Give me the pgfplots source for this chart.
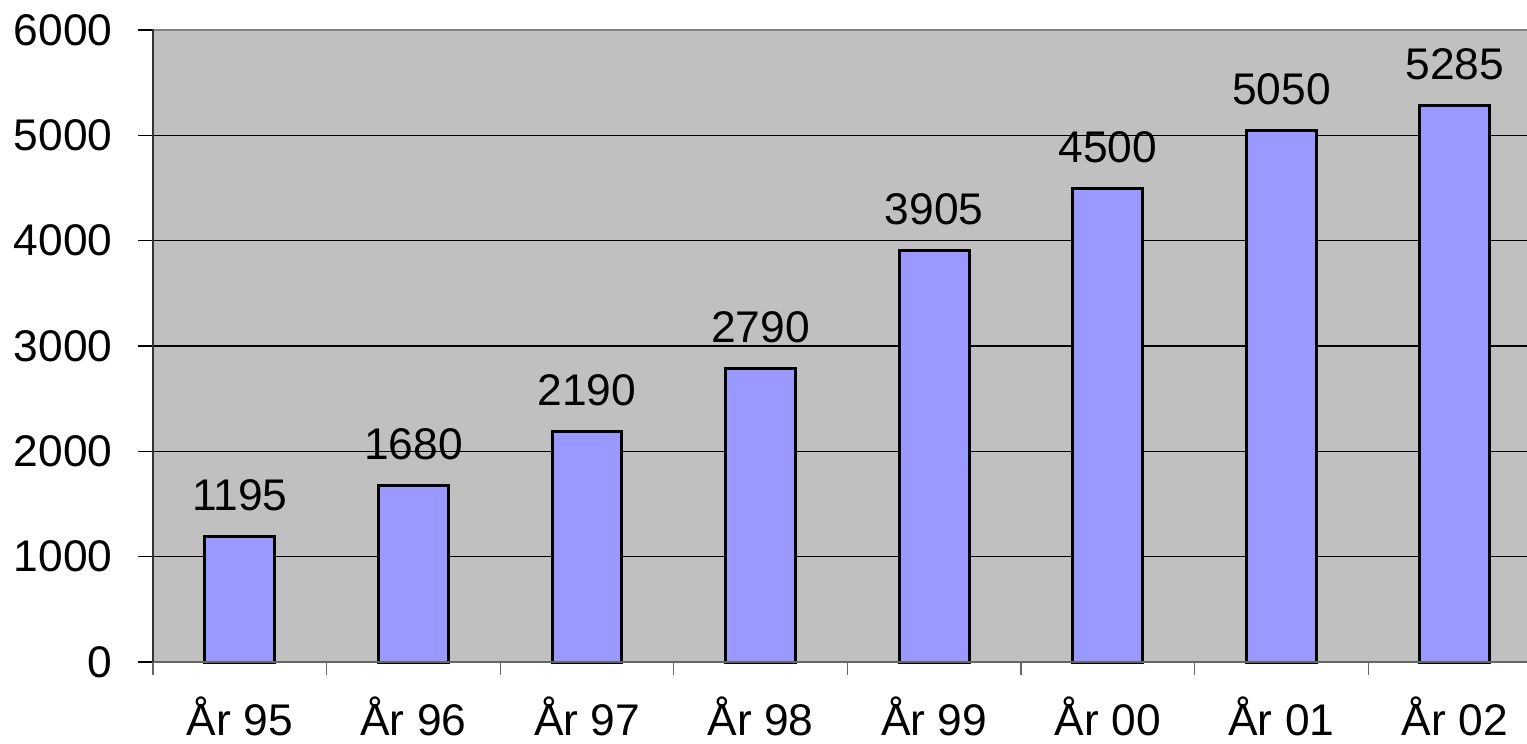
\documentclass[border=0pt]{standalone}
\usepackage{fontspec}
\setmainfont{Liberation Sans}
\usepackage{pgfplots}
\pgfplotsset{compat=1.18}
\definecolor{plotgray}{HTML}{C0C0C0}
\definecolor{barblue}{HTML}{9999FF}
\begin{document}
\begin{tikzpicture}
\begin{axis}[
  scale only axis,
  width=412.2pt, height=189.6pt,
  xmin=-0.5, xmax=7.415,
  ymin=0, ymax=6000,
  axis background/.style={fill=plotgray},
  axis line style={draw=none},
  /pgf/number format/assume math mode=true,
  /pgf/number format/1000 sep={},
  tick label style={font=\fontsize{13.3pt}{16pt}\selectfont},
  ytick={0,1000,...,6000},
  ymajorgrids,
  grid style={black, line width=0.35pt},
  tick align=outside,
  xtick pos=left, ytick pos=left,
  y tick style={black, line width=0.4pt},
  major tick length=4.5pt,
  yticklabel style={anchor=east, inner sep=0pt, xshift=-7.5pt},
  xtick={0,...,7},
  xticklabels={År 95,År 96,År 97,År 98,År 99,År 00,År 01,År 02},
  x tick style={draw=none},
  xticklabel style={anchor=north, inner sep=0pt, yshift=-5.6pt},
  extra x ticks={-0.5,0.5,...,6.5},
  extra x tick labels={},
  extra x tick style={x tick style={draw=gray!80!black, line width=0.4pt}, major tick length=3.9pt},
  ybar, bar width=0.403,
  nodes near coords,
  nodes near coords style={anchor=south, inner sep=0pt, yshift=7.2pt,
    font=\fontsize{13.3pt}{16pt}\selectfont, black},
  clip=false,
]
\addplot[fill=barblue, draw=black, line width=0.9pt] coordinates {
  (0,1195) (1,1680) (2,2190) (3,2790) (4,3905) (5,4500) (6,5050) (7,5285)
};
\draw[gray, line width=0.6pt] (rel axis cs:0,1) -- (rel axis cs:1,1);
\draw[gray!80!black, line width=0.5pt] (rel axis cs:0,0) -- (rel axis cs:1,0);
\draw[black!80, line width=0.6pt] (rel axis cs:0,0) -- (rel axis cs:0,1);
\coordinate (o) at (rel axis cs:0,0);
\end{axis}
\pgfresetboundingbox
\path (o) ++(-45.9pt,-24.3pt) rectangle ++(458.1pt,222.9pt);
\end{tikzpicture}
\end{document}
